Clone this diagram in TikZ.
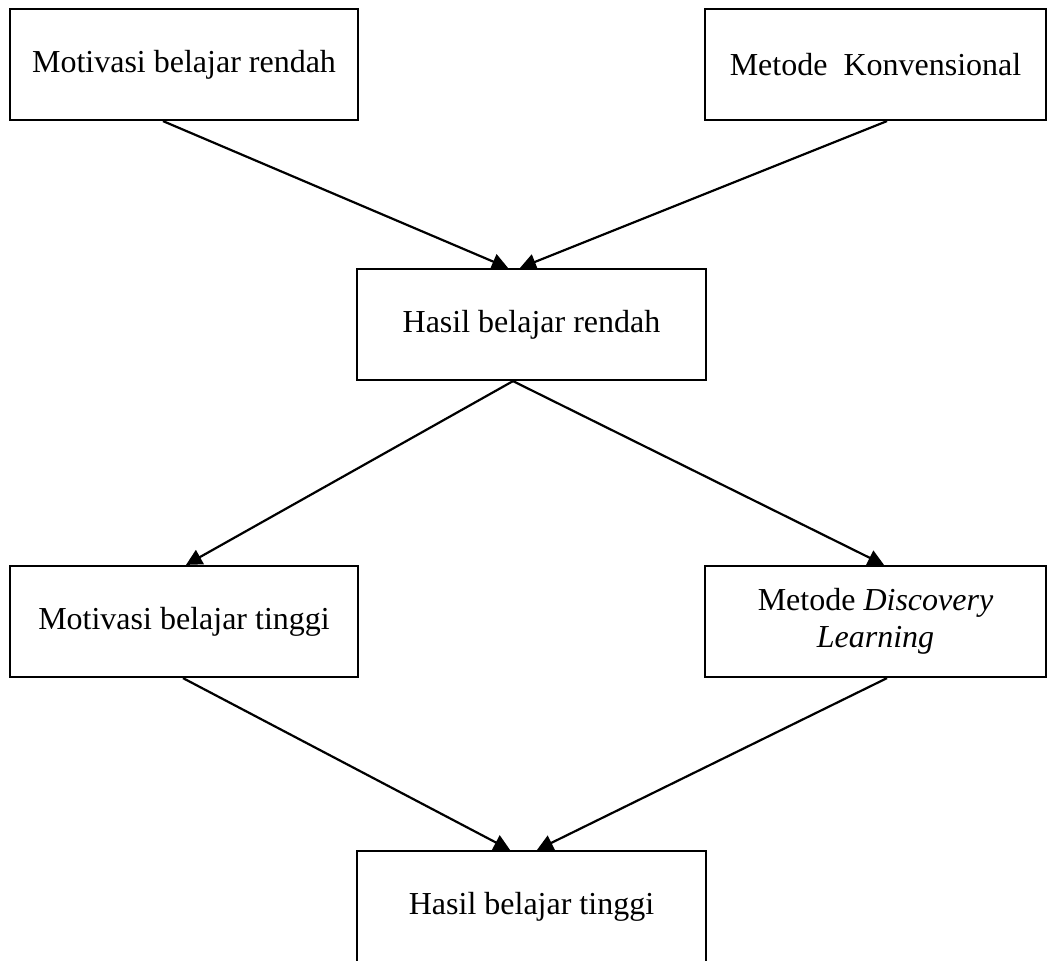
\documentclass[tikz,border=0pt]{standalone}
\usepackage{fontspec}
\setmainfont{Liberation Serif}
\usetikzlibrary{arrows.meta}
\begin{document}
\begin{tikzpicture}[x=1pt,y=-1pt,
  box/.style={draw,line width=2.2pt,inner sep=0pt,minimum height=111pt,align=center,font=\fontsize{32}{37}\selectfont},
  conn/.style={line width=2.2pt,-{Triangle[length=16pt,width=16pt]}}]
\useasboundingbox (0,0) rectangle (1048,960);
\node[box,minimum width=348pt] (b1) at (184,64.5) {Motivasi belajar rendah};
\node[box,minimum width=341pt] (b2) at (875.5,64.5) {Metode\ \ Konvensional};
\node[box,minimum width=349pt] (b3) at (531.5,324.5) {Hasil belajar rendah};
\node[box,minimum width=348pt] (b4) at (184,621.5) {Motivasi belajar tinggi};
\node[box,minimum width=341pt] (b5) at (875.5,621.5) {Metode \textit{Discovery}\\\textit{Learning}};
\node[box,minimum width=349pt] (b6) at (531.5,906.5) {Hasil belajar tinggi};
\draw[conn] ([xshift=-21pt]b1.south) -- ([xshift=-23.5pt]b3.north);
\draw[conn] ([xshift=11.5pt]b2.south) -- ([xshift=-11.5pt]b3.north);
\draw[conn] ([xshift=-18.5pt]b3.south) -- ([xshift=2pt]b4.north);
\draw[conn] ([xshift=-18.5pt]b3.south) -- ([xshift=8.5pt]b5.north);
\draw[conn] ([xshift=-1pt]b4.south) -- ([xshift=-21.5pt]b6.north);
\draw[conn] ([xshift=11.5pt]b5.south) -- ([xshift=5.5pt]b6.north);
\end{tikzpicture}
\end{document}
